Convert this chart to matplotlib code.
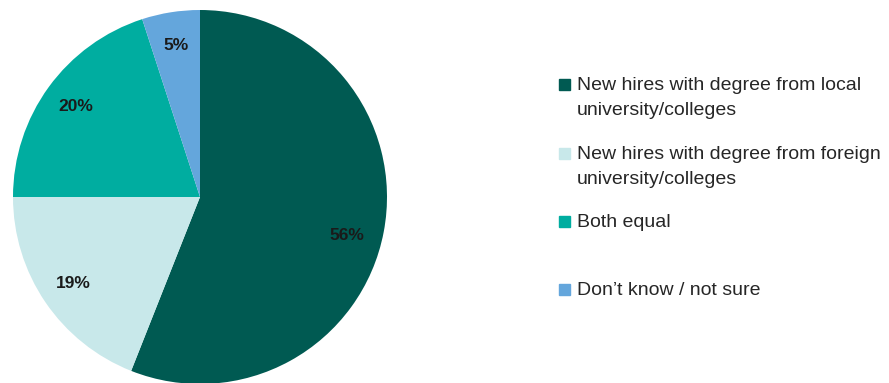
import numpy as np
import matplotlib.pyplot as plt
from matplotlib.patches import Rectangle

# data
categories = ['New hires with degree from local\nuniversity/colleges',
              'New hires with degree from foreign\nuniversity/colleges',
              'Both equal',
              'Don\u2019t know / not sure']
shares = [56, 19, 20, 5]
colors = ['#005A52', '#C8E8EA', '#00ADA0', '#64A6DC']

plt.rcParams['font.family'] = ['Liberation Sans', 'DejaVu Sans']

W, H = 889, 383
fig = plt.figure(figsize=(W / 100, H / 100), dpi=100)

# pie area: centre (200, 197) px, radius 187 px
cx, cy, r = 200, 197, 187
ax = fig.add_axes([(cx - r) / W, (H - cy - r) / H, 2 * r / W, 2 * r / H])
wedges, texts, autotexts = ax.pie(
    shares, colors=colors, startangle=90, counterclock=False,
    autopct=lambda p: f'{p:.0f}%', pctdistance=0.82,
    textprops=dict(fontsize=12.5, fontweight='bold', color='#1a1a1a'),
    wedgeprops=dict(linewidth=0))

# the big slice's label sits a little below its mid-angle
w0 = wedges[0]
theta = np.deg2rad(w0.theta1 + (w0.theta2 - w0.theta1) * 0.48)
autotexts[0].set_position((0.81 * np.cos(theta), 0.81 * np.sin(theta)))

ax.set_xlim(-1, 1)
ax.set_ylim(-1, 1)
ax.set_aspect('equal')
ax.axis('off')

# legend drawn by hand to keep the uneven row spacing (baselines in px)
baselines = [90, 159, 227, 295]
for label, col, y in zip(categories, colors, baselines):
    fig.patches.append(Rectangle((559 / W, (H - y) / H), 11 / W, 11 / H,
                                 transform=fig.transFigure, color=col))
    for i, line in enumerate(label.split('\n')):
        fig.text(577 / W, (H - y - 25 * i) / H, line, fontsize=14,
                 color='#262626', va='baseline', ha='left')

fig.savefig('out.png', dpi=100)
